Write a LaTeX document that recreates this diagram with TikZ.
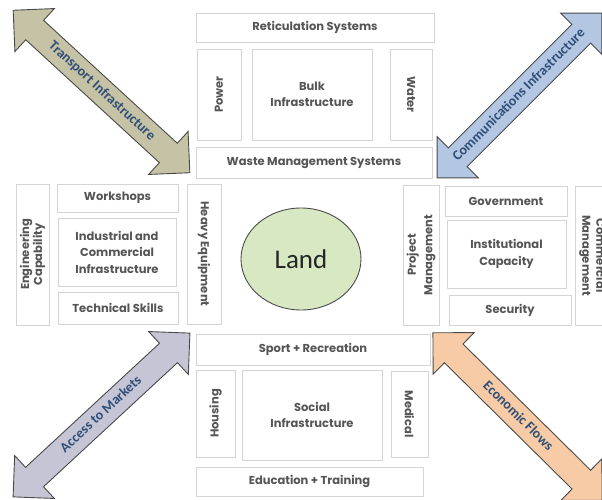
\documentclass[tikz,border=0pt]{standalone}
\usepackage{fontspec}
\setmainfont{Poppins}
\newfontfamily\boxfont{Poppins}
\newfontfamily\arrowfont{Carlito}
\usetikzlibrary{shapes.arrows,shapes.geometric}
\definecolor{cellline}{HTML}{D4D4D4}
\definecolor{celltext}{HTML}{555555}
\definecolor{arrowline}{HTML}{4A4A4A}
\definecolor{arrowtext}{HTML}{2F4F78}
\definecolor{transport}{HTML}{C6C2A5}
\definecolor{comms}{HTML}{B3C6E2}
\definecolor{markets}{HTML}{C6C5D6}
\definecolor{econ}{HTML}{F6CBA6}
\definecolor{landfill}{HTML}{D7E8C2}

\begin{document}
\begin{tikzpicture}[x=1pt, y=-1pt,
    cell/.style={draw=cellline, line width=0.7pt, fill=white, rectangle, inner sep=1pt, align=center, text=celltext, font=\boxfont\bfseries\fontsize{11.5}{16.5}\selectfont},
    flow/.style={double arrow, draw=arrowline, line width=0.9pt, double arrow head extend=16pt, minimum width=57pt, inner xsep=0pt, inner ysep=6.5pt, text height=9.5pt, text depth=3pt, text=arrowtext, font=\arrowfont\bfseries\fontsize{14}{16}\selectfont}]
    \useasboundingbox (0,0) rectangle (602,500);

    \node[flow, fill=transport, rotate=-42.6, minimum height=240pt] (transport) at (101.5,91.5) {Transport Infrastructure};
    \node[flow, fill=comms, rotate=45, minimum height=233pt] (comms) at (519.5,95.5) {Communications Infrastructure};
    \node[flow, fill=markets, rotate=42.8, minimum height=241pt] (markets) at (101.5,415) {Access to Markets};
    \node[flow, fill=econ, rotate=-44.7, minimum height=238pt] (econ) at (517.5,416.5) {Economic Flows};

    \node[cell, minimum width=238pt, minimum height=29pt] (retic) at (315,27.5) {Reticulation Systems};
    \node[cell, rotate=90, minimum width=91pt, minimum height=44pt] (power) at (219,94.5) {Power};
    \node[cell, minimum width=120pt, minimum height=91pt] (bulk) at (312,94.5) {Bulk\\Infrastructure};
    \node[cell, rotate=-90, minimum width=91pt, minimum height=42pt] (water) at (411,94.5) {Water};
    \node[cell, minimum width=236pt, minimum height=31pt] (waste) at (314,162.5) {Waste Management Systems};

    \node[cell, rotate=90, minimum width=141pt, minimum height=33pt, font=\boxfont\bfseries\fontsize{11.5}{13}\selectfont] (engcap) at (32.5,254.5) {Engineering\\Capability};
    \node[cell, minimum width=121pt, minimum height=28pt] (workshops) at (117.5,198) {Workshops};
    \node[cell, minimum width=118pt, minimum height=68pt] (indcom) at (117,252) {Industrial and\\Commercial\\Infrastructure};
    \node[cell, minimum width=120pt, minimum height=32pt] (skills) at (118,308) {Technical Skills};
    \node[cell, rotate=-90, minimum width=140pt, minimum height=34pt] (heavy) at (204,254) {Heavy Equipment};

    \node[ellipse, draw=arrowline, line width=0.9pt, fill=landfill, minimum width=120pt, minimum height=102pt, text=black!85, font=\arrowfont\fontsize{27}{30}\selectfont] (land) at (301,259) {Land};

    \node[cell, rotate=90, minimum width=140pt, minimum height=36pt] (projmgmt) at (421,255) {Project\\Management};
    \node[cell, minimum width=122pt, minimum height=30pt] (govt) at (506,201) {Government};
    \node[cell, minimum width=119pt, minimum height=68pt] (inst) at (506.5,254) {Institutional\\Capacity};
    \node[cell, minimum width=122pt, minimum height=30pt] (security) at (510,310) {Security};
    \node[cell, rotate=-90, minimum width=139pt, minimum height=35pt, font=\boxfont\bfseries\fontsize{11.5}{14}\selectfont] (commgmt) at (592.5,255.5) {Commercial\\Management};

    \node[cell, minimum width=234pt, minimum height=31pt] (sport) at (313,349.5) {Sport + Recreation};
    \node[cell, rotate=90, minimum width=87pt, minimum height=39pt] (housing) at (215.5,413.5) {Housing};
    \node[cell, minimum width=140pt, minimum height=90pt] (social) at (312,415) {Social\\Infrastructure};
    \node[cell, rotate=-90, minimum width=86pt, minimum height=37pt] (medical) at (409.5,414) {Medical};
    \node[cell, minimum width=227pt, minimum height=29pt] (edu) at (309.5,481.5) {Education + Training};
\end{tikzpicture}
\end{document}
